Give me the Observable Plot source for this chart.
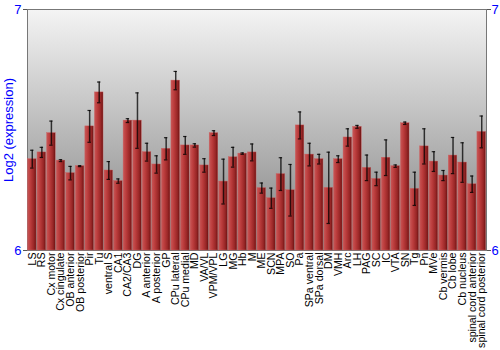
<!DOCTYPE html>
<html>
<head>
<meta charset="utf-8">
<script src="https://cdn.jsdelivr.net/npm/d3@7"></script>
<script src="https://cdn.jsdelivr.net/npm/@observablehq/plot@0.6"></script>
<style>
  html, body { margin: 0; padding: 0; background: #fff; }
</style>
</head>
<body>
<div id="chart"></div>
<script>
const regions = ["LS","RS","Cx motor","Cx cingulate","OB anterior","OB posterior","Pir","Tu","ventral S","CA1","CA2/CA3","DG","A anterior","A posterior","GP","CPu lateral","CPu medial","MD","VA/VL","VPM/VPL","LG","MG","Hb","M","ME","SCN","MPA","SO","Pa","SPa ventral","SPa dorsal","DM","VMH","Arc","LH","PAG","SC","IC","VTA","SN","Tg","Pn","MVe","Cb vermis","Cb lobe","Cb nucleus","spinal cord anterior","spinal cord posterior"];
const values = [6.379,6.407,6.487,6.373,6.321,6.350,6.515,6.656,6.332,6.288,6.539,6.539,6.408,6.357,6.422,6.705,6.436,6.436,6.353,6.487,6.286,6.387,6.402,6.407,6.259,6.217,6.317,6.250,6.519,6.398,6.379,6.260,6.379,6.469,6.513,6.343,6.297,6.385,6.350,6.528,6.256,6.432,6.369,6.311,6.394,6.365,6.275,6.492];
const errors = [0.037,0.021,0.050,0.004,0.028,0.002,0.066,0.043,0.037,0.009,0.008,0.115,0.037,0.036,0.046,0.038,0.037,0.007,0.028,0.010,0.093,0.041,0.003,0.035,0.021,0.042,0.068,0.107,0.056,0.047,0.020,0.148,0.014,0.036,0.006,0.053,0.028,0.074,0.005,0.005,0.069,0.073,0.041,0.021,0.075,0.082,0.034,0.066];
const yTicks = [6, 7];
const yLabel = "Log2 (expression)";

const data = regions.map((r, i) => ({region: r, value: values[i], lo: values[i] - errors[i], hi: values[i] + errors[i]}));

const font = "'Liberation Sans', Arial, sans-serif";

const plot = Plot.plot({
  width: 500,
  height: 350,
  marginLeft: 27,
  marginRight: 14,
  marginTop: 9,
  marginBottom: 100,
  style: {fontFamily: font, fontSize: "11px", background: "transparent", overflow: "visible"},
  x: {domain: regions, paddingInner: 0.1, paddingOuter: 0.05, round: false, label: null},
  y: {domain: [6, 7], label: null},
  marks: [
    Plot.frame({fill: "url(#bgGrad)", stroke: "#777"}),
    Plot.barY(data, {x: "region", y1: 6, y2: "value", fill: "url(#barGrad)", stroke: "#cc6262", strokeWidth: 0.4}),
    Plot.ruleX(data, {x: "region", y1: "lo", y2: "hi", stroke: "#000", strokeOpacity: 0.75, strokeWidth: 1.5}),
    Plot.tickY(data, {x: "region", y: "lo", stroke: "#000", strokeOpacity: 0.8, strokeWidth: 1.2, insetLeft: 2.6, insetRight: 2.6}),
    Plot.tickY(data, {x: "region", y: "hi", stroke: "#000", strokeOpacity: 0.8, strokeWidth: 1.2, insetLeft: 2.6, insetRight: 2.6}),
    Plot.axisX({tickSize: 0, tickRotate: -90, tickPadding: 2, fill: "#000", fontSize: 10.6, label: null}),
    Plot.axisY({anchor: "left", ticks: yTicks, tickFormat: "d", tickSize: 4, stroke: "#555", fill: "blue", fontSize: 13, tickPadding: 2, label: yLabel, labelAnchor: "center", labelArrow: "none", labelOffset: 24}),
    Plot.axisY({anchor: "right", ticks: yTicks, tickFormat: "d", tickSize: 4, stroke: "#555", fill: "blue", fontSize: 13, tickPadding: 1, label: null})
  ]
});

const svg = d3.select(plot);
const defs = svg.insert("defs", ":first-child");
const bg = defs.append("linearGradient").attr("id", "bgGrad").attr("x1", 0).attr("y1", 0).attr("x2", 0).attr("y2", 1);
bg.append("stop").attr("offset", "0%").attr("stop-color", "#f4f4f4");
bg.append("stop").attr("offset", "100%").attr("stop-color", "#808080");
const bar = defs.append("linearGradient").attr("id", "barGrad").attr("x1", 0).attr("y1", 0).attr("x2", 1).attr("y2", 0);
bar.append("stop").attr("offset", "0%").attr("stop-color", "#c85656");
bar.append("stop").attr("offset", "35%").attr("stop-color", "#bb3c3c");
bar.append("stop").attr("offset", "75%").attr("stop-color", "#982626");
bar.append("stop").attr("offset", "100%").attr("stop-color", "#6c1212");

document.getElementById("chart").appendChild(plot);
</script>
</body>
</html>
